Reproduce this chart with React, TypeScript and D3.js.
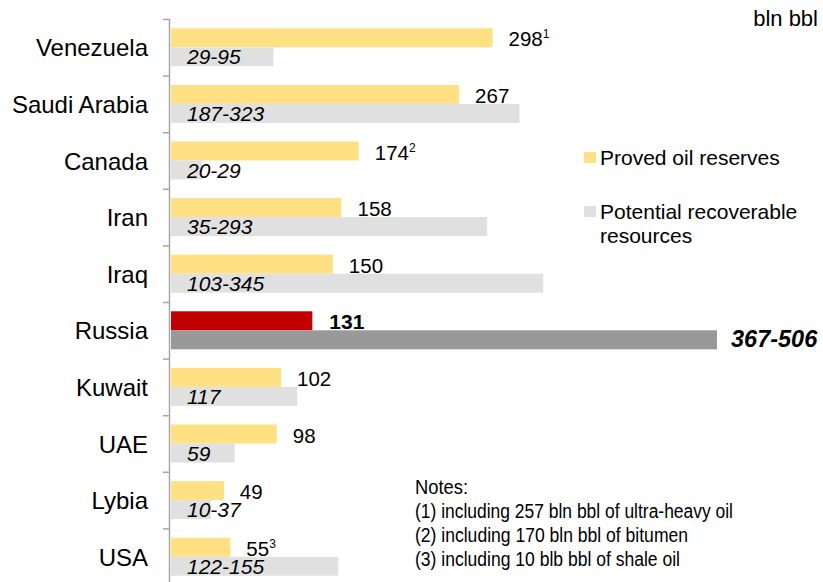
import React from "react";
import * as d3 from "d3";

const categories = ["Venezuela", "Saudi Arabia", "Canada", "Iran", "Iraq", "Russia", "Kuwait", "UAE", "Lybia", "USA"];
const proved = [298, 267, 174, 158, 150, 131, 102, 98, 49, 55];
const provedNotes = ["1", "", "2", "", "", "", "", "", "", "3"];
const potentialHigh = [95, 323, 29, 293, 345, 506, 117, 59, 37, 155];
const potentialLabels = ["29-95", "187-323", "20-29", "35-293", "103-345", "367-506", "117", "59", "10-37", "122-155"];
const highlight = "Russia";
const legendLabels = ["Proved oil reserves", ["Potential recoverable", "resources"]];
const notes = [
  "Notes:",
  "(1) including 257 bln bbl of ultra-heavy oil",
  "(2) including 170 bln bbl of bitumen",
  "(3) including 10 blb bbl of shale oil",
];
const notesWidths = [53, 318, 273, 265];
const unitLabel = "bln bbl";

const W = 823;
const H = 582;
const FONT = "'Liberation Sans', Arial, Helvetica, sans-serif";
const NARROW = "'Liberation Sans Narrow', 'Arial Narrow', 'Liberation Sans', Arial, sans-serif";

const YELLOW = "#FFE083";
const LGRAY = "#E0E0E0";
const RED = "#C00000";
const DGRAY = "#999999";

export default function App() {
  const x = d3.scaleLinear().domain([0, 506]).range([171, 717]);
  const y = d3.scaleBand<string>().domain(categories).range([19, 19 + 10 * 56.6]);
  const bw = y.bandwidth();
  const barH = 19;
  const pad = (bw - 2 * barH) / 2;
  const axisX = 169.5;

  return (
    <>
      <style>{"html,body{margin:0;padding:0;overflow:hidden;}"}</style>
      <svg
        width={W}
        height={H}
        style={{ display: "block", position: "fixed", left: 0, top: 0, background: "#fff" }}
        fontFamily={FONT}
      >
        {/* bars */}
        {categories.map((c, i) => {
          const y0 = (y(c) as number) + pad;
          const isH = c === highlight;
          return (
            <g key={c}>
              <rect x={x(0)} y={y0} width={x(proved[i]) - x(0)} height={barH} fill={isH ? RED : YELLOW} />
              <rect x={x(0)} y={y0 + barH} width={x(potentialHigh[i]) - x(0)} height={barH} fill={isH ? DGRAY : LGRAY} />
              <text x={148} y={y0 + barH + 9} textAnchor="end" fontSize={24} fill="#000">
                {c}
              </text>
              <text
                x={x(proved[i]) + (isH ? 17 : 16)}
                y={y0 + barH - 1}
                fontSize={isH ? 21 : 20.5}
                fontWeight={isH ? "bold" : "normal"}
                fill="#000"
              >
                {proved[i]}
                {provedNotes[i] && (
                  <tspan fontSize={12} dy={-8}>
                    {provedNotes[i]}
                  </tspan>
                )}
              </text>
              {isH ? (
                <text
                  x={x(potentialHigh[i]) + 14}
                  y={y0 + 2 * barH - 2}
                  fontSize={23.5}
                  fontWeight="bold"
                  fontStyle="italic"
                  fill="#000"
                >
                  {potentialLabels[i]}
                </text>
              ) : (
                <text x={x(0) + 16} y={y0 + 2 * barH - 2} fontSize={21} fontStyle="italic" fill="#000">
                  {potentialLabels[i]}
                </text>
              )}
            </g>
          );
        })}

        {/* axis */}
        <line x1={axisX} x2={axisX} y1={19} y2={H} stroke="#A6A6A6" strokeWidth={1.5} />
        {categories.map((c) => (
          <line key={c} x1={163} x2={axisX} y1={(y(c) as number) + 0.5} y2={(y(c) as number) + 0.5} stroke="#A6A6A6" strokeWidth={1.5} />
        ))}

        {/* unit */}
        <text x={818} y={26} textAnchor="end" fontSize={22} fill="#000">
          {unitLabel}
        </text>

        {/* legend */}
        <rect x={584} y={152} width={12} height={11} fill={YELLOW} />
        <text x={600} y={165} fontSize={21} fill="#000">
          {legendLabels[0] as string}
        </text>
        <rect x={584} y={206} width={12} height={11} fill={LGRAY} />
        <text x={600} y={219} fontSize={21} fill="#000">
          {(legendLabels[1] as string[])[0]}
        </text>
        <text x={600} y={243} fontSize={21} fill="#000">
          {(legendLabels[1] as string[])[1]}
        </text>

        {/* notes */}
        {notes.map((n, i) => (
          <text
            key={i}
            x={415}
            y={494 + i * 24}
            fontSize={20}
            fontFamily={NARROW}
            textLength={notesWidths[i]}
            lengthAdjust="spacingAndGlyphs"
            fill="#000"
          >
            {n}
          </text>
        ))}
      </svg>
    </>
  );
}
